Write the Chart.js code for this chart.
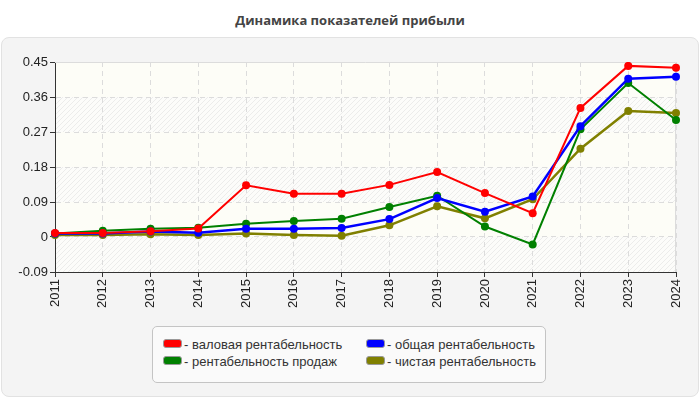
<!DOCTYPE html>
<html>
<head>
<meta charset="utf-8">
<script src="https://cdn.jsdelivr.net/npm/chart.js@4.4.1/dist/chart.umd.min.js"></script>
<style>
html,body{margin:0;padding:0;background:#fff;width:700px;height:400px;overflow:hidden;font-family:'Liberation Sans',Arial,sans-serif}
#panel{position:absolute;left:1px;top:37px;width:696px;height:358px;background:#f4f4f4;border:1px solid #e2e2e2;border-radius:8px}
#title{position:absolute;left:0;top:11px;width:700px;text-align:center;font-family:'Open Sans',sans-serif;font-weight:bold;font-size:13px;color:#444}
#wrap{position:absolute;left:0;top:0;width:700px;height:400px}
#legend{position:absolute;left:152px;top:326px;width:394px;height:57px;box-sizing:border-box;background:#fafafa;border:1px solid #c4c4c4;border-radius:5px;font-size:13px;color:#333}
#legend .it{position:absolute;white-space:nowrap;line-height:15px}
#legend .sw{display:inline-block;width:17px;height:7px;border-radius:3px;border:1px solid #999;vertical-align:1px;margin-right:2px}
</style>
</head>
<body>
<div id="panel"></div>
<div id="title">Динамика показателей прибыли</div>
<div id="wrap"><canvas id="c" width="700" height="400"></canvas></div>
<div id="legend"></div>
<script>
// data
var years=['2011','2012','2013','2014','2015','2016','2017','2018','2019','2020','2021','2022','2023','2024'];
var gross =[0.010,0.010,0.015,0.022,0.133,0.111,0.111,0.134,0.167,0.113,0.061,0.332,0.440,0.435];
var total =[0.009,0.009,0.014,0.011,0.021,0.021,0.023,0.046,0.100,0.065,0.104,0.285,0.407,0.412];
var sales =[0.009,0.016,0.021,0.024,0.034,0.041,0.047,0.077,0.106,0.027,-0.019,0.277,0.396,0.301];
var net   =[0.005,0.005,0.007,0.005,0.009,0.005,0.003,0.030,0.079,0.048,0.097,0.227,0.324,0.319];
var names=['валовая рентабельность','общая рентабельность','рентабельность продаж','чистая рентабельность'];
var yMin=-0.09, yMax=0.45, yStep=0.09;

var COL={gross:'#ff0000',total:'#0000ff',sales:'#008000',net:'#808000'};

function mkPattern(){
    var p=document.createElement('canvas');p.width=5;p.height=5;
    var c=p.getContext('2d');
    c.fillStyle='#fcfcfa';c.fillRect(0,0,5,5);
    c.strokeStyle='rgba(205,205,205,0.35)';c.lineWidth=1;
    c.beginPath();c.moveTo(0,5);c.lineTo(5,0);c.moveTo(-2,2);c.lineTo(2,-2);c.moveTo(3,7);c.lineTo(7,3);c.stroke();
    return c.createPattern(p,'repeat');
}

// plot background: alternating plain / hatched bands between y ticks + light frame
var bandPlugin={
    id:'bands',
    beforeDraw:function(chart){
        var ctx=chart.ctx,a=chart.chartArea,y=chart.scales.y,pat=mkPattern();
        var ticks=y.ticks;
        ctx.save();
        for(var i=0;i<ticks.length-1;i++){
            var y0=y.getPixelForValue(ticks[i].value),y1=y.getPixelForValue(ticks[i+1].value);
            ctx.fillStyle=(i%2===0)?pat:'#fdfdf7';
            ctx.fillRect(a.left,Math.min(y0,y1),a.right-a.left,Math.abs(y1-y0));
        }
        ctx.restore();
    },
    beforeDatasetsDraw:function(chart){
        var ctx=chart.ctx,a=chart.chartArea;
        ctx.save();ctx.strokeStyle='#dcdcdc';ctx.lineWidth=1;
        ctx.beginPath();ctx.moveTo(a.left,a.top+0.5);ctx.lineTo(a.right-0.5,a.top+0.5);ctx.lineTo(a.right-0.5,a.bottom);ctx.stroke();
        ctx.restore();
    }
};

function ds(label,data,color,w){
    return {label:label,data:data,borderColor:color,backgroundColor:color,borderWidth:w,pointRadius:4,pointHoverRadius:4,pointBorderWidth:0,tension:0,fill:false};
}

var chart=new Chart(document.getElementById('c'),{
    type:'line',
    data:{labels:years,datasets:[
        ds(names[0],gross,COL.gross,2),
        ds(names[1],total,COL.total,2.5),
        ds(names[2],sales,COL.sales,2),
        ds(names[3],net,COL.net,2.5)
    ]},
    options:{
        responsive:false,animation:false,devicePixelRatio:1,
        layout:{padding:{left:0,right:24,top:62,bottom:0}},
        plugins:{legend:{display:false},tooltip:{enabled:false},title:{display:false}},
        scales:{
            x:{
                offset:false,
                grid:{color:'#dcdcdc',drawTicks:true,tickLength:5,tickColor:'#333',tickBorderDash:[]},
                border:{display:true,color:'#333',width:1,dash:[5,4]},
                ticks:{color:'#222',font:{family:"'Liberation Sans',Arial,sans-serif",size:13},minRotation:90,maxRotation:90,autoSkip:false,padding:2},
                afterFit:function(s){s.height=128}
            },
            y:{
                min:yMin,max:yMax,
                grid:{color:function(c){return c.tick&&c.tick.value>=yMax-1e-9?'rgba(0,0,0,0)':'#dcdcdc'},drawTicks:true,tickLength:5,tickColor:'#333',tickBorderDash:[]},
                border:{display:true,color:'#333',width:1,dash:[5,4]},
                ticks:{stepSize:yStep,color:'#222',font:{family:"'Liberation Sans',Arial,sans-serif",size:13},padding:2,
                    callback:function(v){return String(+v.toFixed(2))}},
                afterFit:function(s){s.width=55}
            }
        }
    },
    plugins:[bandPlugin]
});

// legend, two columns
var lg=document.getElementById('legend');
var pos=[[10,10],[213,10],[10,27],[213,27]];
chart.data.datasets.forEach(function(d,k){
    var el=document.createElement('div');el.className='it';
    el.style.left=pos[k][0]+'px';el.style.top=pos[k][1]+'px';
    el.innerHTML='<span class="sw" style="background:'+d.borderColor+'"></span>- '+d.label;
    lg.appendChild(el);
});
</script>
</body>
</html>
